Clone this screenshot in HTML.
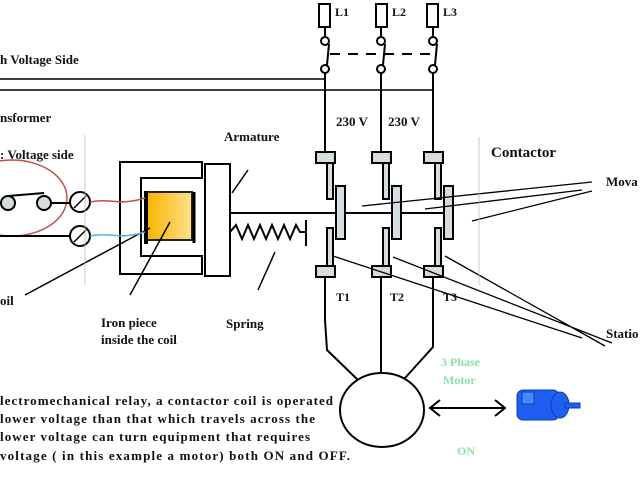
<!DOCTYPE html>
<html><head><style>body{margin:0;background:#fff}svg{display:block}</style></head><body>
<svg width="640" height="480" viewBox="0 0 640 480" xmlns="http://www.w3.org/2000/svg" font-family="Liberation Serif, serif" font-weight="bold">
<defs><linearGradient id="g" x1="0" x2="1"><stop offset="0" stop-color="#f8b400"/><stop offset="1" stop-color="#fde08a"/></linearGradient></defs>
<g stroke="#000" stroke-width="2" fill="none">
<!-- fuses -->
<rect x="319" y="4" width="11" height="23" fill="#fff"/>
<rect x="376" y="4" width="11" height="23" fill="#fff"/>
<rect x="427" y="4" width="11" height="23" fill="#fff"/>
<path d="M325 27V36M381 27V36M433 27V36"/>
<circle cx="325" cy="41" r="4"/><circle cx="381" cy="41" r="4"/><circle cx="433" cy="41" r="4"/>
<circle cx="325" cy="69" r="4"/><circle cx="381" cy="69" r="4"/><circle cx="433" cy="69" r="4"/>
<path d="M329 44L327 65M385 44L383 65M437 44L435 65"/>
<path d="M330 54H436" stroke-dasharray="10,8"/>
<path d="M325 73V153M381 73V153M433 73V153"/>
<path d="M0 79H325M0 90H433" stroke-width="1.5"/>
<!-- contactor -->
<g fill="#d6dde0">
<rect x="316" y="152" width="19" height="11"/><rect x="372" y="152" width="19" height="11"/><rect x="424" y="152" width="19" height="11"/>
<rect x="316" y="266" width="19" height="11"/><rect x="372" y="266" width="19" height="11"/><rect x="424" y="266" width="19" height="11"/>
<rect x="327" y="163" width="6" height="36"/><rect x="383" y="163" width="6" height="36"/><rect x="435" y="163" width="6" height="36"/>
<rect x="327" y="228" width="6" height="38"/><rect x="383" y="228" width="6" height="38"/><rect x="435" y="228" width="6" height="38"/>
<rect x="336" y="186" width="9" height="53"/><rect x="392" y="186" width="9" height="53"/><rect x="444" y="186" width="9" height="53"/>
</g>
<path d="M230 213H336M345 213H392M401 213H444" />
<path d="M325 277V320L327 350L358 380M381 277V373M433 277V347L405 378"/>
<ellipse cx="382" cy="410" rx="42" ry="37"/>
<!-- leader lines -->
<g stroke-width="1.3">
<path d="M362 206L592 182M425 209L582 190M472 221L592 191"/>
<path d="M333 256L582 338M393 257L612 343M445 256L605 346"/>
</g>
<path d="M479 137V285" stroke="#bbb" stroke-width="0.8"/>
<!-- electromagnet -->
<path d="M202 162H120V274H202V256H141V178H202Z"/>
<rect x="205" y="164" width="25" height="112"/>
<rect x="147" y="192" width="45" height="48" fill="url(#g)" stroke="#222"/>
<path d="M146 191V244" stroke-width="4"/><path d="M194 192V243" stroke-width="3"/>
<path d="M230 232L236 225L242 239L248 225L254 239L260 225L266 239L272 225L278 239L284 225L290 239L296 225L300 232H306M306 220V246"/>
<path d="M248 170L232 193M275 252L258 290M170 222L130 295M150 228L25 295" stroke-width="1.5"/>
<!-- switch side -->
<ellipse cx="12" cy="198" rx="55" ry="38" stroke="#c0504d" stroke-width="1.5"/>
<circle cx="8" cy="203" r="7" fill="#d6dde0"/><circle cx="44" cy="203" r="7" fill="#d6dde0"/>
<path d="M8 196L44 193M51 203H70M0 236H70"/>
<circle cx="80" cy="202" r="10"/><circle cx="80" cy="236" r="10"/>
<path d="M74 208L86 196M74 242L86 230" stroke-width="1.5"/>
<path d="M90 202C110 198 120 206 145 198" stroke="#c0504d" stroke-width="1.5"/>
<path d="M90 236C110 232 120 240 145 232" stroke="#4bb8d6" stroke-width="1.5"/>
<path d="M85 135V285" stroke="#bbb" stroke-width="0.8"/>
<!-- arrow -->
<path d="M430 408H505M440 400L430 408L440 416M495 400L505 408L495 416" stroke-width="2"/>
</g>
<!-- motor -->
<g fill="#1f5ff0" stroke="#0b3fb0">
<rect x="517" y="390" width="42" height="30" rx="6"/>
<ellipse cx="560" cy="405" rx="9" ry="13"/>
<rect x="565" y="403" width="15" height="5"/>
<rect x="522" y="392" width="12" height="12" fill="#4a86ff"/>
</g>
<g font-size="13" fill="#111">
<text x="0" y="64">h Voltage Side</text>
<text x="0" y="122">nsformer</text>
<text x="0" y="159">: Voltage side</text>
<text x="0" y="305">oil</text>
<text x="224" y="141">Armature</text>
<text x="101" y="327">Iron piece</text>
<text x="101" y="344">inside the coil</text>
<text x="226" y="328">Spring</text>
<text x="336" y="126">230 V</text><text x="388" y="126">230 V</text>
<text x="491" y="157" font-size="15">Contactor</text>
<text x="606" y="186">Mova</text>
<text x="606" y="338">Statio</text>
<text x="336" y="301" font-size="12">T1</text><text x="390" y="301" font-size="12">T2</text><text x="443" y="301" font-size="12">T3</text>
<text x="335" y="16" font-size="12">L1</text><text x="392" y="16" font-size="12">L2</text><text x="443" y="16" font-size="12">L3</text>
<text x="0" y="405" textLength="333">lectromechanical relay, a contactor coil is operated</text>
<text x="0" y="423" textLength="315">lower voltage than that which travels across the</text>
<text x="0" y="441" textLength="310">lower voltage can turn equipment that requires</text>
<text x="0" y="460" textLength="350">voltage ( in this example a motor) both ON and OFF.</text>
</g>
<g font-size="12" fill="#8fe0a8">
<text x="441" y="366">3 Phase</text><text x="443" y="384">Motor</text><text x="457" y="455">ON</text>
</g>
</svg>
</body></html>
